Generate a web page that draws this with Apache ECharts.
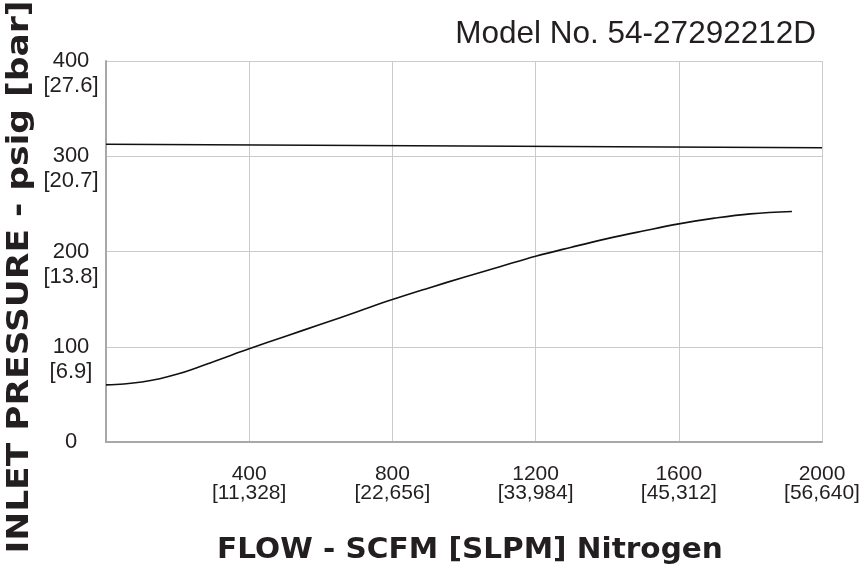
<!DOCTYPE html>
<html>
<head>
<meta charset="utf-8">
<script src="https://cdn.jsdelivr.net/npm/echarts@6/dist/echarts.min.js"></script>
<style>html,body{margin:0;padding:0;background:#fff}#c{width:861px;height:572px}</style>
</head>
<body>
<div id="c"></div>
<script>
// Data
const xTicks = [400, 800, 1200, 1600, 2000];
const xTickSlpm = ['[11,328]', '[22,656]', '[33,984]', '[45,312]', '[56,640]'];
const yTicks = [0, 100, 200, 300, 400];
const yTickBar = ['', '[6.9]', '[13.8]', '[20.7]', '[27.6]'];
const inletFlow = [0, 50, 100, 150, 200, 250, 300, 350, 400, 500, 600, 700, 800, 900, 1000, 1100, 1200, 1300, 1400, 1500, 1600, 1700, 1800, 1916];
const inletPressure = [60, 60.9, 63, 66.5, 71.3, 77.5, 84.3, 91.2, 98, 110.8, 123.6, 136.5, 149.5, 161.5, 173, 184, 195, 204.5, 213.5, 221.5, 229, 235, 239.5, 242];
const upperFlow = [0, 2000];
const upperPressure = [312.6, 309];

const chart = echarts.init(document.getElementById('c'));
const gridColor = '#cbcbcb';
const axisColor = '#a8a8a8';
chart.setOption({
  animation: false,
  title: {
    text: 'Model No. 54-27292212D',
    right: 40, top: 13,
    textStyle: {fontFamily: 'Liberation Sans', fontWeight: 'normal', fontSize: 31.5, color: '#231f20'}
  },
  grid: {left: 106, right: 39, top: 61, bottom: 130, outerBoundsMode: 'none'},
  graphic: [{
    type: 'text', x: 20, y: 277, rotation: Math.PI / 2, scaleX: 1.15,
    style: {
      text: 'INLET PRESSURE - psig [bar]',
      font: 'bold 30px "DejaVu Sans"', fill: '#231f20',
      align: 'center', verticalAlign: 'middle'
    }
  }, {
    type: 'text', x: 470, y: 551, scaleX: 1.055,
    style: {
      text: 'FLOW - SCFM [SLPM] Nitrogen',
      font: 'bold 28px "DejaVu Sans"', fill: '#231f20',
      align: 'center', verticalAlign: 'middle'
    }
  }],
  xAxis: {
    type: 'value', min: 0, max: 2000, interval: 400,
    axisLine: {show: true, lineStyle: {color: axisColor, width: 2}},
    axisTick: {show: false},
    splitLine: {show: true, lineStyle: {color: gridColor, width: 1}},
    axisLabel: {
      margin: 23, lineHeight: 19, fontSize: 21, fontFamily: 'Liberation Sans', color: '#231f20',
      formatter: v => { const i = xTicks.indexOf(v); return i < 0 ? '' : v + '\n' + xTickSlpm[i]; }
    }
  },
  yAxis: {
    type: 'value', min: 0, max: 400, interval: 100,
    axisLine: {show: true, lineStyle: {color: axisColor, width: 2}},
    axisTick: {show: false},
    splitLine: {show: true, lineStyle: {color: gridColor, width: 1}},
    axisLabel: {
      margin: 35, align: 'center', lineHeight: 25, fontSize: 22, fontFamily: 'Liberation Sans', color: '#231f20',
      formatter: v => { const i = yTicks.indexOf(v); return yTickBar[i] ? '\n' + v + '\n' + yTickBar[i] : String(v); }
    }
  },
  series: [
    {
      type: 'line', smooth: 0.4, symbol: 'none',
      data: inletFlow.map((x, i) => [x, inletPressure[i]]),
      lineStyle: {color: '#111', width: 1.6}
    },
    {
      type: 'line', symbol: 'none',
      data: upperFlow.map((x, i) => [x, upperPressure[i]]),
      lineStyle: {color: '#111', width: 1.6}
    }
  ]
});
</script>
</body>
</html>
